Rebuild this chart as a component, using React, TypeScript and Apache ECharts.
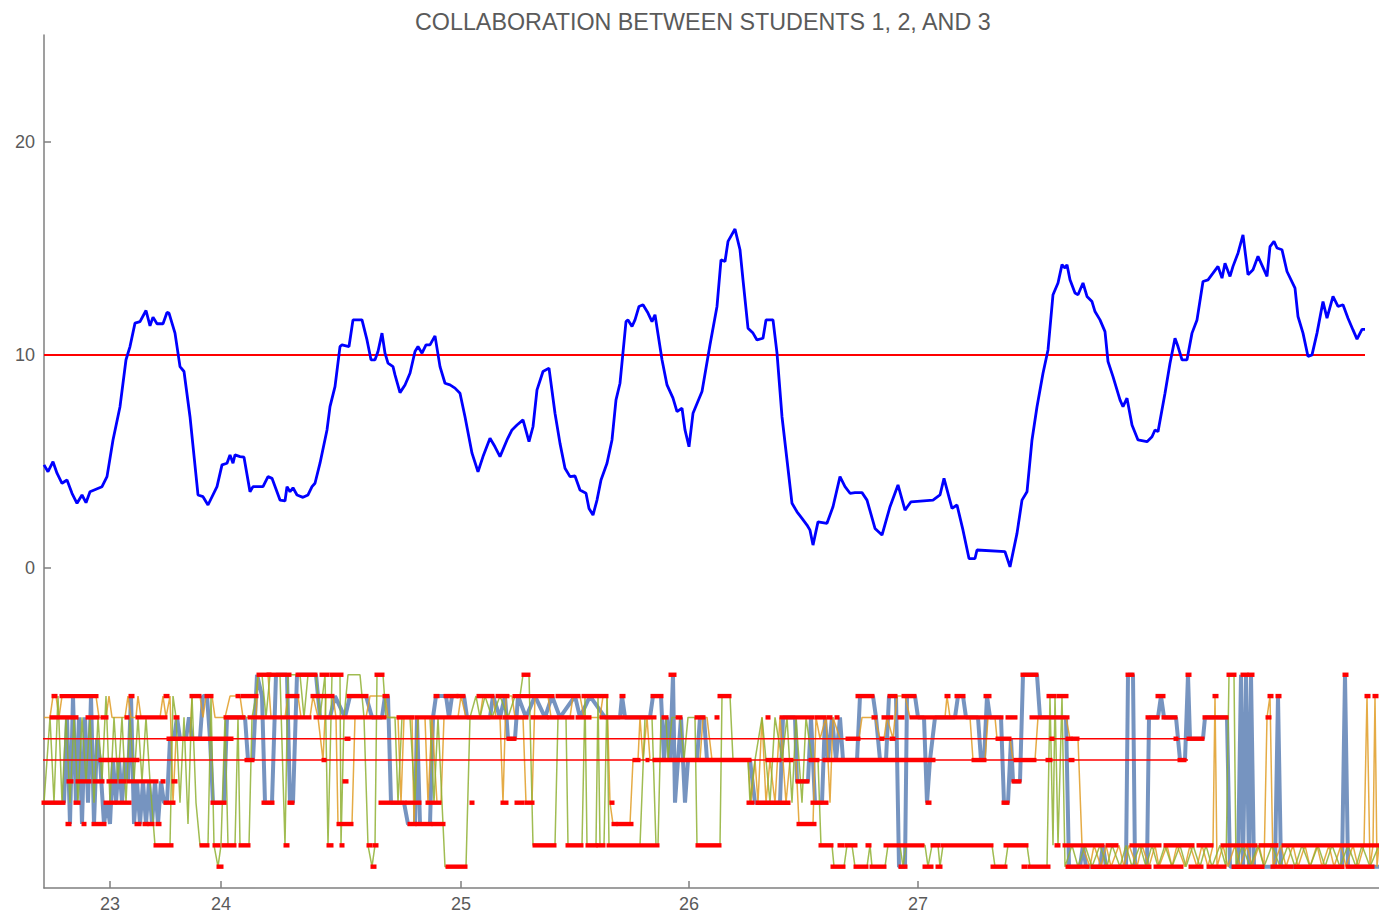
import React, { useEffect, useRef } from "react";
import * as echarts from "echarts";

const titleText = "COLLABORATION BETWEEN STUDENTS 1, 2, AND 3";
const xTickValues = [110, 221, 461, 689, 918];
const xTickLabels = ["23", "24", "25", "26", "27"];
const yTickValues = [0, 10, 20];
const threshold = 10;
const lowerRefs = [-8, -9];

// moving collaboration score (time, value)
const collabScore: number[][] = [
  [44,4.84],[48,4.52],[53,4.99],[57,4.45],[62,3.98],[67,4.13],[72,3.51],[77,3.04],[82,3.43],[86,3.07],[90,3.58],[102,3.82],[107,4.29],[113,6.01],[120,7.57],[126,9.77],[130,10.39],[135,11.49],[140,11.56],[146,12.08],[150,11.36],[153,11.77],[157,11.46],[163,11.46],[167,11.99],[169,11.96],[175,11.02],[180,9.45],[184,9.22],[190,7.1],[198,3.43],[203,3.35],[208,2.96],[217,3.82],[222,4.84],[227,4.92],[230,5.31],[233,4.92],[235,5.31],[240,5.23],[244,5.2],[250,3.58],[253,3.82],[263,3.82],[268,4.29],[272,4.21],[280,3.19],[285,3.15],[287,3.82],[290,3.58],[293,3.77],[297,3.43],[303,3.32],[308,3.43],[312,3.82],[315,3.98],[320,4.92],[327,6.48],[330,7.57],[335,8.51],[340,10.39],[342,10.47],[349,10.39],[353,11.64],[362,11.64],[367,10.7],[371,9.77],[375,9.77],[378,10.16],[382,11.02],[385,10.08],[388,9.61],[393,9.45],[395,9.06],[400,8.23],[405,8.59],[410,9.14],[415,10.16],[418,10.39],[422,10.08],[426,10.47],[430,10.47],[435,10.89],[440,9.45],[445,8.67],[450,8.59],[455,8.44],[460,8.2],[465,7.1],[472,5.39],[478,4.52],[483,5.23],[490,6.09],[495,5.69],[500,5.23],[507,6.01],[512,6.48],[517,6.71],[523,6.95],[529,5.93],[533,6.63],[537,8.36],[543,9.22],[549,9.38],[555,7.26],[560,5.85],[565,4.68],[570,4.29],[575,4.32],[580,3.66],[586,3.51],[589,2.8],[593,2.49],[597,3.19],[601,4.13],[607,4.92],[612,6.01],[616,7.89],[620,8.67],[626,11.56],[628,11.64],[632,11.33],[635,11.64],[639,12.27],[643,12.35],[648,11.96],[652,11.56],[655,11.88],[662,9.77],[667,8.59],[673,7.97],[677,7.34],[682,7.5],[685,6.48],[689,5.69],[693,7.26],[702,8.28],[710,10.47],[717,12.27],[721,14.46],[725,14.38],[728,15.32],[735,15.9],[740,14.93],[743,13.52],[748,11.25],[753,11.02],[757,10.7],[763,10.78],[766,11.64],[773,11.64],[777,10.08],[782,7.1],[787,5.07],[792,3.04],[797,2.64],[802,2.33],[807,2.02],[810,1.78],[813,1.08],[818,2.17],[827,2.1],[833,2.88],[840,4.29],[845,3.82],[850,3.51],[855,3.54],[862,3.54],[867,3.19],[875,1.86],[882,1.55],[890,2.88],[898,3.9],[905,2.72],[911,3.11],[933,3.19],[940,3.43],[944,4.21],[952,2.8],[957,2.96],[963,1.78],[969,0.45],[975,0.45],[977,0.85],[1005,0.77],[1010,0.06],[1017,1.63],[1022,3.19],[1027,3.58],[1032,6.01],[1037,7.57],[1043,9.14],[1048,10.23],[1053,12.82],[1058,13.37],[1062,14.23],[1065,14.07],[1067,14.23],[1070,13.52],[1075,12.9],[1078,12.82],[1083,13.37],[1087,12.74],[1092,12.5],[1095,12.03],[1100,11.64],[1105,11.09],[1108,9.69],[1113,8.98],[1120,7.89],[1123,7.57],[1127,7.97],[1132,6.71],[1138,6.01],[1147,5.93],[1152,6.16],[1155,6.48],[1158,6.4],[1165,8.2],[1170,9.61],[1175,10.78],[1178,10.39],[1182,9.77],[1187,9.77],[1192,11.02],[1197,11.64],[1203,13.44],[1208,13.52],[1213,13.83],[1218,14.15],[1222,13.6],[1225,14.3],[1230,13.68],[1233,14.15],[1238,14.77],[1243,15.63],[1248,13.76],[1253,13.99],[1258,14.62],[1267,13.68],[1270,15.08],[1274,15.32],[1277,15.01],[1282,14.93],[1287,13.91],[1295,13.13],[1298,11.8],[1303,11.02],[1308,9.92],[1312,10.0],[1317,11.02],[1323,12.5],[1327,11.72],[1333,12.74],[1338,12.27],[1343,12.35],[1348,11.72],[1353,11.17],[1357,10.74],[1362,11.2],[1365,11.2]
];

// student 1 state (time, level)
const student1: number[][] = [
  [44,-11],[64,-11],[67,-7],[70,-12],[73,-6],[76,-11],[79,-7],[82,-12],[85,-7],[88,-11],[91,-6],[94,-12],[97,-8],[100,-9],[104,-12],[107,-11],[110,-12],[113,-9],[116,-11],[119,-9],[122,-11],[125,-9],[128,-10],[131,-6],[134,-12],[137,-10],[140,-12],[143,-10],[146,-12],[149,-10],[152,-12],[155,-10],[158,-12],[161,-10],[164,-11],[167,-11],[170,-8],[174,-8],[177,-7],[180,-8],[186,-8],[189,-7],[192,-8],[200,-8],[203,-6],[207,-6],[210,-8],[213,-11],[224,-11],[227,-7],[245,-7],[248,-9],[253,-9],[257,-5],[262,-6],[265,-11],[272,-11],[276,-5],[287,-5],[290,-11],[293,-11],[297,-5],[316,-5],[320,-7],[330,-7],[335,-6],[345,-7],[350,-6],[366,-6],[372,-7],[382,-7],[385,-6],[388,-6],[391,-11],[404,-11],[408,-12],[415,-12],[417,-7],[420,-12],[430,-12],[433,-7],[436,-6],[446,-6],[449,-7],[452,-6],[464,-6],[467,-7],[490,-7],[493,-6],[500,-7],[505,-6],[508,-8],[515,-8],[518,-6],[526,-7],[535,-6],[545,-7],[552,-6],[560,-7],[575,-6],[580,-7],[590,-6],[605,-7],[620,-7],[622,-6],[625,-7],[650,-7],[653,-6],[661,-6],[664,-9],[667,-7],[670,-9],[673,-5],[675,-11],[678,-9],[681,-7],[685,-11],[688,-9],[697,-9],[700,-7],[704,-7],[707,-9],[750,-9],[755,-11],[780,-11],[783,-7],[795,-7],[797,-10],[808,-10],[811,-7],[815,-11],[822,-11],[825,-7],[828,-9],[832,-7],[836,-9],[840,-7],[843,-9],[857,-9],[860,-6],[873,-6],[876,-7],[880,-9],[886,-9],[889,-6],[896,-6],[899,-14],[905,-14],[907,-6],[915,-6],[918,-7],[924,-7],[927,-11],[930,-9],[935,-7],[955,-7],[958,-6],[963,-6],[966,-7],[978,-7],[981,-9],[984,-9],[987,-6],[990,-7],[1001,-7],[1004,-11],[1008,-11],[1011,-8],[1013,-10],[1020,-10],[1023,-5],[1037,-5],[1040,-7],[1066,-7],[1069,-14],[1080,-14],[1083,-13],[1086,-14],[1100,-14],[1103,-13],[1106,-14],[1126,-14],[1128,-5],[1133,-5],[1135,-14],[1147,-14],[1149,-7],[1158,-7],[1161,-6],[1164,-7],[1176,-7],[1180,-9],[1185,-9],[1188,-5],[1190,-8],[1203,-8],[1205,-7],[1227,-7],[1230,-14],[1238,-14],[1241,-5],[1243,-14],[1246,-5],[1249,-14],[1251,-5],[1254,-14],[1275,-14],[1278,-6],[1281,-14],[1342,-14],[1345,-5],[1348,-14],[1379,-14]
];

// student 2 state
const student2: number[][] = [
  [44,-7],[50,-7],[53,-6],[56,-6],[59,-7],[62,-6],[96,-6],[99,-7],[106,-7],[109,-6],[112,-7],[125,-7],[128,-6],[131,-7],[136,-7],[138,-6],[141,-7],[160,-7],[163,-6],[166,-7],[170,-6],[173,-11],[176,-8],[190,-8],[192,-6],[200,-6],[203,-7],[206,-6],[212,-6],[215,-7],[225,-7],[230,-6],[240,-6],[243,-7],[256,-7],[258,-5],[268,-5],[271,-7],[285,-7],[288,-6],[298,-6],[301,-7],[310,-7],[313,-6],[318,-7],[323,-9],[326,-6],[333,-6],[336,-7],[338,-12],[352,-12],[355,-7],[366,-7],[370,-6],[385,-6],[388,-7],[398,-7],[401,-11],[404,-7],[412,-7],[414,-12],[418,-7],[425,-7],[428,-11],[432,-7],[437,-11],[441,-11],[444,-7],[458,-7],[461,-6],[466,-7],[480,-7],[483,-6],[493,-6],[496,-7],[500,-7],[503,-11],[506,-6],[512,-6],[515,-7],[523,-7],[526,-11],[532,-11],[535,-6],[548,-6],[551,-7],[570,-7],[573,-6],[580,-6],[584,-7],[600,-7],[603,-6],[607,-6],[610,-11],[613,-12],[630,-12],[633,-9],[638,-9],[640,-7],[643,-9],[647,-7],[650,-9],[700,-9],[703,-7],[707,-7],[712,-9],[748,-9],[751,-11],[755,-9],[758,-11],[762,-7],[766,-11],[770,-9],[775,-11],[780,-7],[786,-11],[790,-9],[796,-9],[799,-12],[813,-12],[816,-7],[820,-8],[826,-7],[830,-11],[833,-7],[840,-8],[859,-8],[862,-7],[875,-7],[880,-8],[884,-8],[887,-7],[893,-8],[897,-6],[905,-6],[910,-7],[945,-7],[947,-6],[950,-7],[970,-7],[973,-9],[985,-9],[988,-7],[995,-7],[997,-8],[1010,-8],[1013,-9],[1035,-9],[1038,-7],[1066,-7],[1070,-8],[1078,-8],[1082,-13],[1090,-14],[1094,-13],[1101,-14],[1106,-13],[1111,-14],[1119,-13],[1124,-14],[1129,-13],[1137,-14],[1142,-13],[1149,-14],[1155,-13],[1159,-14],[1167,-13],[1172,-14],[1177,-13],[1185,-14],[1190,-13],[1197,-14],[1202,-13],[1208,-14],[1213,-13],[1215,-6],[1217,-14],[1223,-13],[1228,-14],[1235,-13],[1240,-14],[1247,-13],[1252,-14],[1259,-13],[1264,-14],[1267,-7],[1270,-6],[1273,-14],[1281,-13],[1286,-14],[1293,-13],[1298,-14],[1305,-13],[1310,-14],[1317,-13],[1322,-14],[1329,-13],[1334,-14],[1341,-13],[1346,-14],[1353,-13],[1358,-14],[1364,-13],[1367,-6],[1370,-14],[1373,-13],[1375,-6],[1377,-14],[1379,-13]
];

// student 3 state
const student3: number[][] = [
  [44,-11],[50,-7],[54,-11],[58,-6],[62,-11],[66,-7],[70,-11],[74,-7],[78,-11],[82,-7],[86,-10],[90,-7],[94,-11],[98,-7],[102,-10],[106,-6],[110,-11],[114,-7],[118,-10],[122,-7],[126,-11],[130,-7],[134,-10],[138,-7],[142,-10],[146,-7],[150,-10],[155,-13],[170,-13],[173,-6],[176,-7],[180,-11],[184,-7],[188,-12],[192,-6],[196,-11],[200,-13],[208,-13],[211,-6],[214,-13],[218,-14],[221,-13],[225,-7],[228,-13],[235,-13],[238,-7],[240,-13],[249,-13],[252,-7],[256,-6],[258,-5],[262,-5],[266,-7],[270,-5],[280,-5],[285,-13],[288,-5],[300,-5],[304,-7],[308,-5],[316,-5],[320,-7],[325,-5],[328,-13],[332,-5],[340,-5],[341,-13],[344,-7],[348,-5],[360,-5],[364,-7],[368,-13],[372,-14],[375,-13],[377,-5],[383,-5],[386,-7],[395,-7],[398,-11],[402,-7],[410,-7],[415,-11],[418,-7],[430,-7],[434,-11],[438,-7],[445,-14],[466,-14],[470,-7],[476,-6],[480,-7],[485,-6],[492,-7],[500,-6],[508,-7],[515,-6],[520,-6],[523,-5],[529,-5],[533,-13],[555,-13],[558,-7],[566,-7],[568,-13],[582,-13],[585,-6],[587,-13],[596,-13],[598,-6],[600,-13],[604,-13],[607,-6],[609,-13],[640,-13],[645,-7],[652,-7],[656,-13],[658,-13],[661,-7],[666,-7],[668,-9],[672,-7],[680,-7],[684,-9],[688,-7],[695,-7],[697,-13],[720,-13],[722,-6],[730,-6],[733,-9],[748,-9],[750,-11],[755,-9],[762,-7],[766,-9],[770,-11],[775,-7],[782,-9],[787,-7],[792,-11],[796,-7],[802,-11],[806,-7],[812,-9],[818,-9],[821,-13],[832,-13],[834,-14],[844,-14],[847,-13],[852,-13],[855,-14],[867,-14],[870,-13],[872,-14],[885,-14],[888,-13],[900,-13],[903,-14],[906,-13],[925,-13],[928,-14],[932,-13],[938,-13],[940,-14],[943,-13],[992,-13],[995,-14],[1005,-14],[1008,-13],[1027,-13],[1030,-14],[1047,-14],[1050,-6],[1053,-13],[1055,-6],[1058,-13],[1062,-6],[1065,-14],[1072,-13],[1078,-14],[1085,-13],[1092,-14],[1100,-13],[1107,-14],[1112,-13],[1120,-14],[1126,-13],[1132,-14],[1140,-13],[1146,-14],[1152,-13],[1158,-14],[1165,-13],[1172,-14],[1180,-13],[1186,-14],[1193,-13],[1200,-14],[1206,-13],[1212,-14],[1220,-13],[1226,-14],[1229,-5],[1234,-5],[1236,-14],[1242,-13],[1250,-14],[1258,-13],[1264,-14],[1272,-13],[1280,-14],[1288,-13],[1295,-14],[1302,-13],[1310,-14],[1318,-13],[1325,-14],[1332,-13],[1340,-14],[1348,-13],[1356,-14],[1362,-13],[1370,-14],[1379,-13]
];

// shared-state runs (start, end, level)
const sharedRuns: number[][] = [
  [258,270,-5],[268,290,-5],[297,316,-5],[321,328,-5],[331,342,-5],[376,383,-5],[523,529,-5],[670,675,-5],[1022,1037,-5],[1127,1133,-5],[1187,1190,-5],[1228,1235,-5],[1242,1247,-5],[1249,1253,-5],[1344,1347,-5],
  [53,56,-6],[61,97,-6],[130,133,-6],[165,168,-6],[191,200,-6],[206,212,-6],[237,239,-6],[242,257,-6],[287,298,-6],[312,333,-6],[348,367,-6],[384,388,-6],[435,438,-6],[445,457,-6],[458,464,-6],[478,493,-6],[497,508,-6],[514,553,-6],[557,579,-6],[583,607,-6],[621,624,-6],[652,662,-6],[719,730,-6],[857,873,-6],[889,896,-6],[903,915,-6],[946,949,-6],[956,964,-6],[985,990,-6],[1048,1055,-6],[1058,1067,-6],[1157,1164,-6],[1214,1217,-6],[1269,1272,-6],[1277,1280,-6],[1366,1369,-6],[1374,1377,-6],
  [51,77,-7],[87,98,-7],[102,107,-7],[126,128,-7],[137,166,-7],[175,178,-7],[225,244,-7],[249,310,-7],[315,385,-7],[398,413,-7],[416,501,-7],[504,527,-7],[532,547,-7],[549,573,-7],[577,590,-7],[601,655,-7],[663,667,-7],[677,681,-7],[696,704,-7],[716,718,-7],[767,769,-7],[781,813,-7],[816,825,-7],[828,831,-7],[836,838,-7],[873,876,-7],[883,892,-7],[899,903,-7],[911,1002,-7],[1007,1016,-7],[1031,1068,-7],[1147,1158,-7],[1163,1176,-7],[1204,1227,-7],[1267,1270,-7],
  [168,232,-8],[346,349,-8],[508,515,-8],[847,859,-8],[881,883,-8],[891,894,-8],[997,1010,-8],[1051,1053,-8],[1067,1071,-8],[1073,1078,-8],[1175,1177,-8],[1188,1203,-8],
  [100,138,-9],[246,253,-9],[323,325,-9],[634,639,-9],[647,648,-9],[654,750,-9],[767,780,-9],[785,792,-9],[810,818,-9],[824,934,-9],[973,985,-9],[1015,1035,-9],[1047,1051,-9],[1070,1073,-9],[1179,1185,-9],
  [68,72,-10],[77,90,-10],[94,103,-10],[108,116,-10],[120,125,-10],[128,157,-10],[162,164,-10],[173,176,-10],[344,347,-10],[797,808,-10],[1013,1020,-10],
  [43,64,-11],[75,79,-11],[105,115,-11],[117,130,-11],[165,174,-11],[212,225,-11],[263,273,-11],[289,293,-11],[380,405,-11],[407,420,-11],[427,440,-11],[471,473,-11],[502,507,-11],[516,523,-11],[526,533,-11],[611,613,-11],[748,753,-11],[757,789,-11],[812,827,-11],[927,930,-11],[1003,1008,-11],
  [67,70,-12],[83,85,-12],[93,105,-12],[136,140,-12],[144,147,-12],[149,153,-12],[157,160,-12],[338,352,-12],[409,415,-12],[417,431,-12],[433,444,-12],[613,616,-12],[618,632,-12],[798,815,-12],
  [155,172,-13],[201,208,-13],[214,219,-13],[223,235,-13],[240,249,-13],[285,288,-13],[328,332,-13],[341,343,-13],[368,371,-13],[374,377,-13],[534,555,-13],[567,582,-13],[587,596,-13],[598,604,-13],[608,658,-13],[697,720,-13],[820,832,-13],[839,843,-13],[846,856,-13],[867,870,-13],[885,923,-13],[932,939,-13],[942,992,-13],[1005,1027,-13],[1056,1059,-13],[1064,1103,-13],[1107,1117,-13],[1131,1160,-13],[1165,1193,-13],[1198,1212,-13],[1222,1256,-13],[1260,1277,-13],[1283,1379,-13],
  [218,222,-14],[372,375,-14],[447,466,-14],[832,844,-14],[855,867,-14],[871,885,-14],[900,906,-14],[924,932,-14],[937,941,-14],[992,1006,-14],[1023,1026,-14],[1029,1049,-14],[1067,1088,-14],[1092,1150,-14],[1155,1182,-14],[1190,1202,-14],[1208,1225,-14],[1233,1263,-14],[1272,1292,-14],[1295,1343,-14],[1347,1373,-14]
];

const thresholdSpan = [44, 1365];
const refSpan = [40, 1188];

export default function App() {
  const ref = useRef<HTMLDivElement>(null);
  useEffect(() => {
    if (!ref.current) return;
    const chart = echarts.init(ref.current, null, { renderer: "svg" });
    const axisGray = "#7f7f7f";
    const textGray = "#5a5a5a";
    const font = "Liberation Sans, Arial, sans-serif";
    const option: any = {
      animation: false,
      backgroundColor: "#ffffff",
      title: {
        text: titleText,
        left: 410,
        top: 5,
        textStyle: { fontFamily: font, fontSize: 23.3, fontWeight: "normal", color: textGray },
      },
      grid: { left: 44, right: 0, top: 35, bottom: 26, containLabel: false },
      xAxis: {
        type: "value",
        min: 44,
        max: 1379,
        axisLine: { show: true, onZero: false, lineStyle: { color: axisGray, width: 1.5 } },
        axisTick: { show: true, inside: true, length: 7, customValues: xTickValues, lineStyle: { color: axisGray, width: 1.5 } },
        axisLabel: {
          customValues: xTickValues,
          formatter: (v: number) => {
            const i = xTickValues.indexOf(v);
            return i >= 0 ? xTickLabels[i] : "";
          },
          color: textGray,
          fontFamily: font,
          fontSize: 18,
          margin: 7,
        },
        splitLine: { show: false },
      },
      yAxis: {
        type: "value",
        min: -15,
        max: 25,
        axisLine: { show: true, onZero: false, lineStyle: { color: axisGray, width: 1.5 } },
        axisTick: { show: true, inside: true, length: 7, customValues: yTickValues, lineStyle: { color: axisGray, width: 1.5 } },
        axisLabel: {
          customValues: yTickValues,
          color: textGray,
          fontFamily: font,
          fontSize: 18,
          margin: 9,
        },
        splitLine: { show: false },
      },
      series: [
        {
          type: "line",
          data: student1,
          showSymbol: false,
          lineStyle: { color: "#5e81b5", width: 4, opacity: 0.85 },
          z: 2,
        },
        {
          type: "line",
          data: student2,
          showSymbol: false,
          lineStyle: { color: "#e19c24", width: 1.5, opacity: 0.85 },
          z: 3,
        },
        {
          type: "line",
          data: student3,
          showSymbol: false,
          lineStyle: { color: "#8fb032", width: 1.5, opacity: 0.85 },
          z: 4,
        },
        ...lowerRefs.map((lv) => ({
          type: "line",
          data: [[refSpan[0], lv], [refSpan[1], lv]],
          showSymbol: false,
          clip: false,
          lineStyle: { color: "#ff0000", width: 1.5 },
          z: 5,
        })),
        {
          type: "custom",
          data: sharedRuns,
          encode: { x: [0, 1], y: 2 },
          z: 6,
          renderItem: (params: any, api: any) => {
            const p1 = api.coord([api.value(0), api.value(2)]);
            const p2 = api.coord([api.value(1), api.value(2)]);
            return {
              type: "rect",
              shape: { x: p1[0] - 1.5, y: p1[1] - 2.2, width: Math.max(p2[0] - p1[0], 0) + 3, height: 4.4 },
              style: { fill: "#ff0000" },
            };
          },
        },
        {
          type: "line",
          data: [[thresholdSpan[0], threshold], [thresholdSpan[1], threshold]],
          showSymbol: false,
          lineStyle: { color: "#ff0000", width: 2 },
          z: 7,
        },
        {
          type: "line",
          data: collabScore,
          showSymbol: false,
          lineStyle: { color: "#0000ff", width: 2.8 },
          z: 8,
        },
      ],
    };
    chart.setOption(option);
    return () => chart.dispose();
  }, []);
  return (
    <div
      ref={ref}
      style={{ position: "absolute", left: 0, top: 0, width: 1379, height: 914, background: "#fff" }}
    />
  );
}
